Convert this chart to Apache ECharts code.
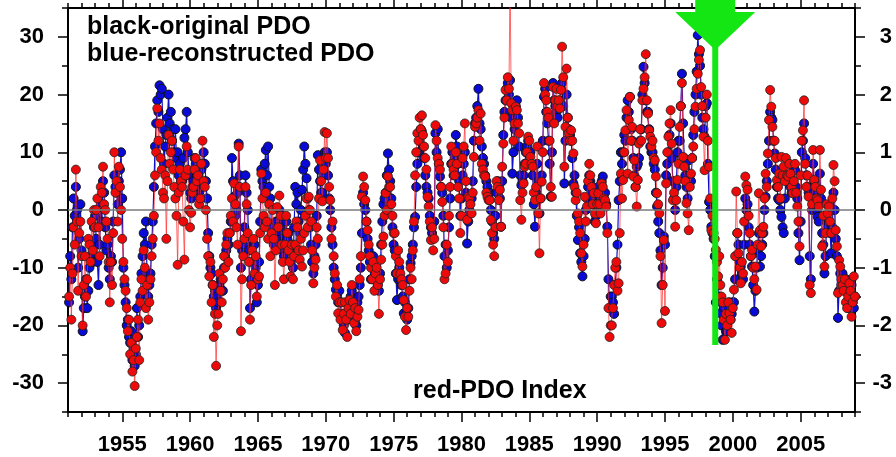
<!DOCTYPE html>
<html><head><meta charset="utf-8">
<script src="https://cdn.jsdelivr.net/npm/echarts@6/dist/echarts.min.js"></script>
<style>html,body{margin:0;padding:0;background:#fff}#c{width:896px;height:457px}</style>
</head><body><div id="c"></div>
<script>
// ---- data (PDO x10), monthly samples starting 1951.08 ----
const START = 1951.08;
const STEP = 1 / 12;
const red1950s = [
  -15,-10,-19,-11,-3,-6,7,-2,-14,-4,-2,-8,
  -20,-13,-8,-15,-12,-5,-6,-9,-2,-7,0,-3,
  0,2,-3,-8,4,3,7.5,1,0,-2,-5,-9,
  -16,-9,-13,-4,10,3,5,-2,7.5,4,0,-5,
  -9,-12,-14,-17,-21,-19,-25,-23,-28,-26,-30.5,-24,
  -22,-19,-26,-16,-12,-14,-7,-10,-17,-13,-19,-16,
  -12,-8,-5,-1,6,10,17.6,12,15,9,7,3,
  2,6,-5,5,13,8,10,12,7,4,2,-1,
  -9.5,3,7,5,4,-2,-8.6,6,11,7,0,-3
];
const red1960s = [
  -0.5,3,4,7,9,5,6,1,2,8,12,5,
  4,0,-5,-8,-11.5,-9,-16,-13,-22,-18,-27,-20,
  -18,-11,-14,-16,-12,-8,-10,-6,-4,-9,-4,-1,
  2,-2,4.6,1,-3,-6,11,4,-21,-12,-8,-5,
  4,1,-4,-9,-19,-13,-7,-5,-11,-8,-15,-12,
  -11.5,-4,6.3,2,-1,-3,3,-2,-5,1,-8,-4,
  0,-5,-13,-7,0.5,-3,2.5,-1,-6,-9,-12,-6,
  -1,-4,-7,-9,-11.5,-6,-12,-8,-6,-2,-3,-7,
  -8.6,-5,-9.8,-7,-4,-1,2,-3,2.3,0,-2,-7,
  -12.7,-10,-8.6,-3,-5,2,8.6,5,1.5,7,13.5,9
];
const red1970s = [
  13.3,9,4,1.7,-5,-2,-8,-11,-15,-13,-17.9,-16,
  -19,-16,-20.8,-18,-16,-19,-22,-17,-15.6,-18,-13,-16,
  -19.6,-17,-21,-18.5,-17.3,-12,-8,2.3,5.8,4,1.7,-2,
  -3.5,-6,-8,-10,-12,-9,-14,-11,-10,-13,-18,-12,
  -8.6,-6,-4.6,-1,2.9,0,5.8,4,4,1,-1,-4,
  -4,-8,-11,-7,-9,-11,-12,-13,-15.6,-18.5,-20.8,-17,
  -18.5,-14,-10,-12,-7,-2,6,10,13.3,12,16,14,
  16.4,13,11,9,7,2.3,0.6,-2,-5.2,-3,-7,-5,
  14.7,12,9,8,7,4,1.4,-3,-12,-11,-6,-9,
  -1,4,11,8,7,6,10,8,4,2,-4,-1
];
const red1980s = [
  9,11,15,5,-1.7,2.3,2,1,-0.6,3,9.2,14.4,
  15,16,17.3,12,16.7,8,7,6,5.8,3,2.3,1.7,
  1.7,-1.7,-4,-6,-8,-3,5,4,1.7,3.5,-2.9,7.5,
  11.5,16,20.8,19,23,21,40,18.5,17.3,12,15,17.9,
  17.3,15,13.3,1.7,-1.7,3,4.6,7.5,8,10,12.7,12,
  9.2,8,7.5,3,1.7,4,11,-0.6,-7.5,2,4.9,10,
  22,20,19,17,16,12,4,2.3,21.3,15,19,21,
  17.9,19,17.6,20.8,28.3,23,7.5,14.4,24.5,16,13.3,12,
  13.8,12,9.8,4,1.7,3,-0.6,-2,-4,-7.5,-9.8,-6,
  2.3,-2,0.6,5,8,6,4,1,2.9,-0.6,-2.3,1
];
const red1990s = [
  2.9,1,-0.6,4.6,4,2,1.7,0.6,-4,-17,-22,-20,
  -20,-17,-13,-10,-9,-14,-12.7,-4,6.3,2,5.2,10,
  13.8,17.3,6.3,15.6,19.6,12,14.4,5.8,8.6,4,0.6,5.2,
  11.5,14,12,19,21,23,27,19,16.7,13.8,12.7,11,
  12,9,8.6,5.8,2.9,1,-0.6,-8,-19.6,-13,-5.2,-17.5,
  4.6,10,12.7,15,17.3,11.5,1.7,3,-2.9,1.7,5.2,8,
  14.4,18,22,9.2,7.5,5,1.2,-0.6,-3.5,4,6.3,9,
  11,14,17.9,21,23.6,26,27.7,21.3,18,12.7,6.9,16,
  20,12,7.5,2,-3.5,-1,-4,-5,-6.9,-9,-11.5,-8,
  -13,-15,-16,-19,-22.5,-18,-20,-16,-17.9,-19,-21.3,-17
];
const red2000s = [
  -13.8,-8,3.2,-4,-7.5,-10,-12.7,-9,-11,-2,5.8,4.3,
  3.5,-1,-4,-8,-6.9,-10,-12,-9.8,-13.8,-6,2.9,-3.5,
  -6.3,-4,-2.9,2,6.3,4,9.8,15.6,20.8,17.9,14.4,12,
  12,9,5.2,4,6.3,2,9.2,6,7.5,5,9,6,
  5.8,8,6.3,4,2.9,5,8,3,0.6,-2,-6.3,6,
  12,13.8,19,8,4,6,2.3,-13,-14.4,1,10.4,5.2,
  4,2,1.7,0.6,10.4,3.5,-6.3,-1,-9.8,-4,1,-0.6,
  0.6,-2,-4,2,7.8,5,-3.5,-6.3,-14.4,-8.7,-9.8,-12,
  -13,-14,-12,-16,-17,-15,-12.7,-14,-18.5,-16,-11.5,-15
];
const blue1950s = [
  -16,-8,-12,-3,2,-1,4,0,-10,-5,1,-7,
  -21,-17,-15,-12,-17,-14,-10,-8,-6,-9,-3,-1,
  -5,-9,-13,-6,1,-2,5,3,-3,-7,-6,-10,
  -12,-8,-9,-2,6,4,3,1,5,7,10,2,
  -10,-13,-16,-20,-19,-22,-23,-21,-26,-24,-27,-25,
  -17,-22,-20,-15,-11,-8,-4,-6,-2,-12,-15,-13,
  -11,-6,-2,4,11,15,19,17,21.6,20,21,14,
  8,11,13,16,20,15,17,12,14,10,14,9,
  10,6,8,5,5,9,12.5,14,17,10,6,3
];
const blue1960s = [
  2,4,5,9,8,6,6,3,4,7,8,10,
  8,5,2,-4,-8,-10,-11,-13,-15,-14,-17,-15,
  -16,-13,-12,-14,-14,-10,-8,-7,-5,-6,-4,-2,
  9,5,2.3,-1,0,3,11.5,6,-10,-7,-6,-3,
  6,3,0,-7,-17,-12,-9,-6,-6,-10,-16,-13,
  -9,-2,7,5,4,8,10.4,6,11,4,2,-3,
  -3,-6,-4,-2,-2,-4,0,-3,-5,-7,-8,-5,
  -2,-5,-4,-7,-9,-6,-10,-3,4,1,3,-2,
  -4,0,3.5,7,11,8,5.5,2,0,-3,-6,-9,
  -11,-8,-6,-1,9.5,7,5,3,3,6,10,8
];
const blue1970s = [
  10,6,2,0,-3,-6,-10,-12,-13.8,-15,-16,-14,
  -16,-19,-18,-20,-21.3,-18,-19,-16,-17,-15,-14,-17,
  -18,-19,-20,-16,-15,-13,-10,-4,3,1,0,-2,
  -5,-7,-9,-12,-10,-8,-12,-10,-11.5,-13,-14,-11,
  -6,-2,1,2,3,6,9.8,7,5,2,-3,-6,
  -7,-11,-15.6,-12,-10,-12,-13,-15,-17.9,-16,-18,-19,
  -17,-12,-9.2,-8,-6,-3,-1.2,4,8,10,12,14,
  13.6,11,9,6,4,3,2,-1,-3,-4,-5,-2,
  13.3,10,14,8,5.8,4,3,-1,-8,-6,-10,-7,
  -3,2,8,10,6,9,13,11,8,5,-1,2
];
const blue1980s = [
  6,8,10,3,-5.8,-2,0,2,2,5,12,15,
  16,18,21,15,14,11,9,8,6,5,4,2,
  3,0,-2,-4,-5,-1,3,5,4,2,-2.9,5,
  13,17,19,21,22,20,22.5,16,6.3,10,14,18,
  19,16,11,6,4.3,5,6,8,10,11,12,10,
  10,8,6,1,-2.9,3,8,5,-0.6,2,6,12,
  19.6,21,17,15,12,8,2.3,10,22,19,18,17,
  16,18,19,21,22,18,4.6,12,20,16,14,13,
  12,9,4.6,6,3,-1,-5.2,-3,-7.5,-9,-11.5,-8,
  -5,0,2,4,6,5,3,2,1,-2,-1,3
];
const blue1990s = [
  4,3,2,5,5.8,2,3,1,-2.9,-12,-17,-15,
  -15,-16,-18,-13,-10,-6,1.7,5,10,8,10,13,
  12,16,19,17,19.6,14,12,9,6,4,7.5,8,
  9,12,14,20,24.8,22,19,17,17,14,11,10,
  10,8,7,3,0.6,-2,-4,-7,-13,-10,-4.6,-6,
  6,8,10,13,15,9,5,2,0,4,10,12,
  12,18,23.6,15,9,6,4,2,8.6,6,5,9,
  13,17,20,24,30.3,27,25,20,16,14,12.7,18,
  18.5,8,1.4,0,-2.9,-4,-5,-8,-16,-12,-13,-15,
  -17.9,-20,-22.5,-17,-19,-21,-21,-18,-16,-19,-18,-16
];
const blue2000s = [
  -16,-12,-8,-4,-6,-9,-9.8,-11,-12,-6,2,0,
  1,-3,-6,-8,-9.8,-13,-17.6,-14,-10,-7,-4,-9.8,
  -8,-6,-4,0,2.3,5,8,12,17,16,15.6,12,
  9.8,7,4,2,1.7,0,-1.2,-3,-4,2,6,5,
  6,5,4,3,5,7,6.9,4,2,-4,-8.7,-2,
  10,12,15,9,6,4,3,-8,-12,0,8,5,
  3,0,-1.2,-2,6.3,2,-4,-6,-11,-8,-2,-3,
  -2,-4,-7.5,-3,3,0,-5,-8,-18.7,-14,-11,-13,
  -11,-13,-14,-12,-16,-17,-15,-14,-13,-16,-17,-15
];
const yearTicks = [1955,1960,1965,1970,1975,1980,1985,1990,1995,2000,2005];
const leftTicks = [-30,-20,-10,0,10,20,30];
const rightTicks = [-3,-2,-1,0,1,2,3];
const texts = { black: 'black-original PDO', blue: 'blue-reconstructed PDO', red: 'red-PDO Index' };

// ---- build ----
const redVals = [].concat(red1950s, red1960s, red1970s, red1980s, red1990s, red2000s);
const blueVals = [].concat(blue1950s, blue1960s, blue1970s, blue1980s, blue1990s, blue2000s);
const toPts = arr => arr.map((v, i) => [START + i * STEP, v]);

const FONT = "'Liberation Sans', Arial, Helvetica, sans-serif";
const chart = echarts.init(document.getElementById('c'), null, { renderer: 'canvas' });
const lbl = { fontFamily: FONT, fontWeight: 'bold', fontSize: 22, color: '#000' };
const tickStyle = { color: '#000', width: 1.5 };
const lineOn = { show: true, onZero: false, lineStyle: { color: '#000', width: 2 } };
const lineOff = { show: false, onZero: false };
const xBase = { type: 'value', min: 1951, max: 2009, splitLine: { show: false } };
const yL = { type: 'value', min: -35, max: 35, position: 'left', splitLine: { show: false } };
const yR = { type: 'value', min: -3.5, max: 3.5, position: 'right', splitLine: { show: false } };
const fmt = v => String(Math.round(v));

chart.setOption({
  animation: false,
  backgroundColor: '#fff',
  grid: { left: 68, right: 41, top: 8, bottom: 45, show: true, borderColor: '#000', borderWidth: 2, backgroundColor: 'transparent' },
  xAxis: [
    Object.assign({}, xBase, { position: 'bottom', interval: 1, axisLine: lineOn,
      axisTick: { show: true, length: 5, lineStyle: tickStyle },
      axisLabel: Object.assign({ show: true, customValues: yearTicks, margin: 22, formatter: fmt }, lbl) }),
    Object.assign({}, xBase, { position: 'bottom', axisLine: lineOff,
      axisTick: { show: true, length: 10, customValues: yearTicks, lineStyle: tickStyle },
      axisLabel: { show: false } }),
    Object.assign({}, xBase, { position: 'top', interval: 1, axisLine: lineOn,
      axisTick: { show: true, length: 5, lineStyle: tickStyle },
      axisLabel: { show: false } }),
    Object.assign({}, xBase, { position: 'top', axisLine: lineOff,
      axisTick: { show: true, length: 10, customValues: yearTicks, lineStyle: tickStyle },
      axisLabel: { show: false } })
  ],
  yAxis: [
    Object.assign({}, yL, { interval: 5, axisLine: lineOn,
      axisTick: { show: true, length: 6, lineStyle: tickStyle },
      axisLabel: Object.assign({ show: true, customValues: leftTicks, margin: 24, formatter: fmt }, lbl) }),
    Object.assign({}, yL, { axisLine: lineOff,
      axisTick: { show: true, length: 10, customValues: leftTicks, lineStyle: tickStyle },
      axisLabel: { show: false } }),
    Object.assign({}, yR, { interval: 0.5, axisLine: lineOn,
      axisTick: { show: true, length: 6, lineStyle: tickStyle },
      axisLabel: Object.assign({ show: true, customValues: rightTicks, margin: 37, align: 'right', formatter: fmt }, lbl) }),
    Object.assign({}, yR, { axisLine: lineOff,
      axisTick: { show: true, length: 10, customValues: rightTicks, lineStyle: tickStyle },
      axisLabel: { show: false } })
  ],
  series: [
    { type: 'line', data: [], z: 1, silent: true,
      markLine: { silent: true, symbol: 'none', label: { show: false },
        lineStyle: { color: '#7a7a7a', width: 1.5, type: 'solid' },
        data: [{ yAxis: 0 }] } },
    { name: 'blue', type: 'line', data: toPts(blueVals), z: 2,
      symbol: 'circle', symbolSize: 9, showAllSymbol: true,
      lineStyle: { color: '#1010c8', width: 1.2 },
      itemStyle: { color: '#0a0ad8', borderColor: '#111', borderWidth: 1 } },
    { name: 'red', type: 'line', data: toPts(redVals), z: 3,
      symbol: 'circle', symbolSize: 9, showAllSymbol: true,
      lineStyle: { color: 'rgba(255,40,40,0.7)', width: 1 },
      itemStyle: { color: '#ee0a0a', borderColor: '#222', borderWidth: 0.8 } }
  ]
});

// annotations
const cx = chart.convertToPixel({ xAxisIndex: 0 }, 1998.7);
const yEnd = chart.convertToPixel({ yAxisIndex: 0 }, -23.4);
const green = '#14e614';
const tfont = "bold 25px " + FONT;
chart.setOption({
  graphic: [
    { type: 'text', left: 87, top: 15, z: 10, style: { text: texts.black, font: tfont, fill: '#000' } },
    { type: 'text', left: 87, top: 42, z: 10, style: { text: texts.blue, font: tfont, fill: '#000' } },
    { type: 'text', left: 413, top: 379, z: 10, style: { text: texts.red, font: tfont, fill: '#000' } },
    { type: 'rect', z: 20, shape: { x: cx - 3, y: 40, width: 6, height: yEnd - 40 }, style: { fill: green } },
    { type: 'polygon', z: 20,
      shape: { points: [[cx - 20, 0], [cx + 20, 0], [cx + 20, 12], [cx + 40, 12], [cx, 50], [cx - 40, 12], [cx - 20, 12]] },
      style: { fill: green } }
  ]
});
</script>
</body></html>
